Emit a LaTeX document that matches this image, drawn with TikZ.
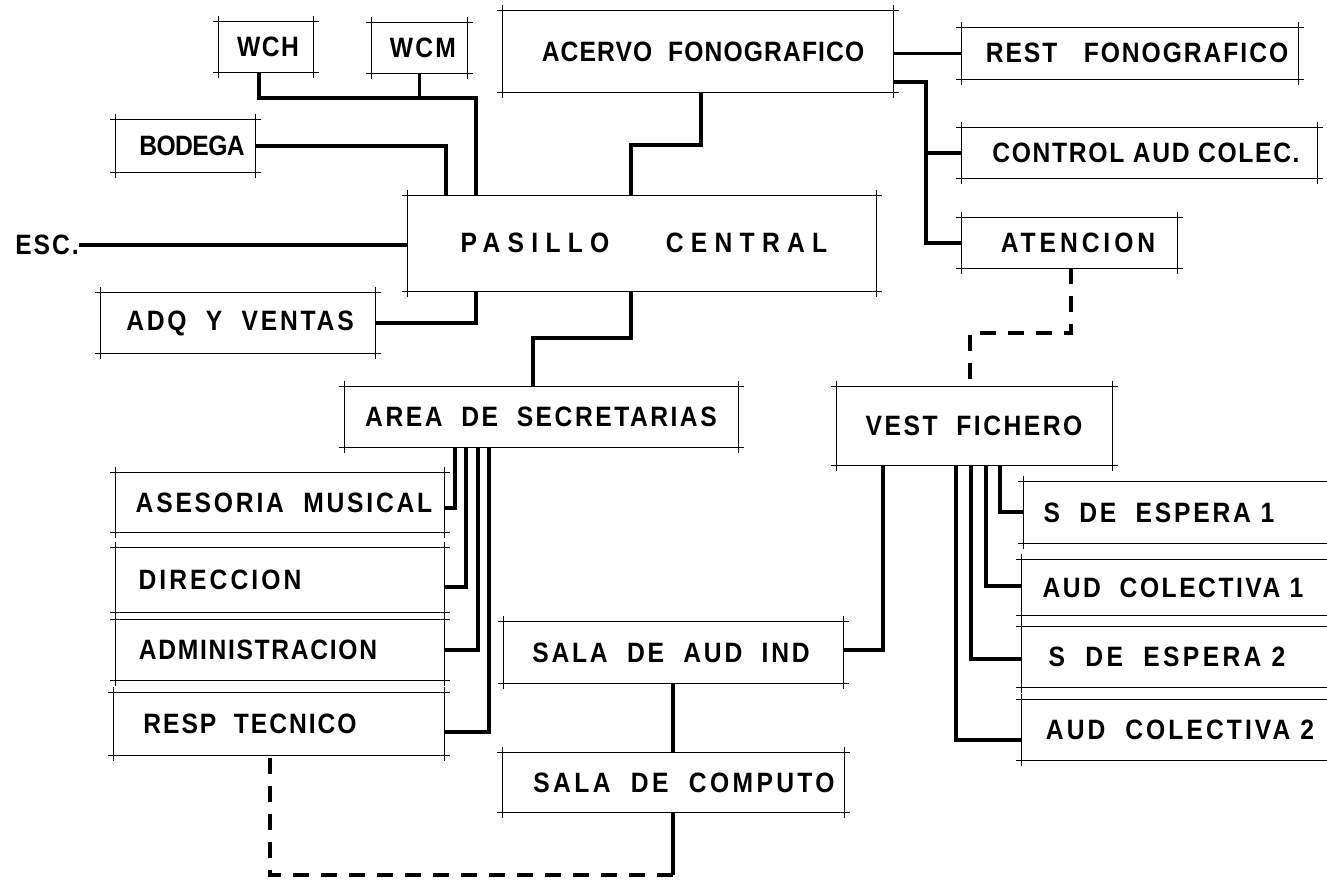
\documentclass[tikz,border=0pt]{standalone}
\usepackage{fontspec}
\setmainfont{Liberation Sans}[FakeStretch=0.88]
\usetikzlibrary{fit}
\newcommand{\lsp}[2]{{\addfontfeature{LetterSpace=#1}#2}}
\begin{document}
\begin{tikzpicture}[x=0.75pt,y=-0.75pt,
  boxline/.style={line width=0.9pt},
  room/.style={inner sep=0pt, draw=none, fit={#1}, append after command={
    ([xshift=-4pt]\tikzlastnode.north west) edge[boxline] ([xshift=4pt]\tikzlastnode.north east)
    ([xshift=-4pt]\tikzlastnode.south west) edge[boxline] ([xshift=4pt]\tikzlastnode.south east)
    ([yshift=4pt]\tikzlastnode.north west) edge[boxline] ([yshift=-4pt]\tikzlastnode.south west)
    ([yshift=4pt]\tikzlastnode.north east) edge[boxline] ([yshift=-4pt]\tikzlastnode.south east)}},
  lbl/.style={inner sep=0pt, font=\bfseries\fontsize{21}{24}\selectfont},
  conn/.style={line width=2.3pt},
  dconn/.style={line width=2.3pt, dash pattern=on 12pt off 9pt}
]
\fill[white] (0,0) rectangle (1327,879);
\useasboundingbox (0,0) rectangle (1327,879);

% boxes
\node[room={(219,22) (313,72)}] (wch) {};
\node[room={(372,23) (467,73)}] (wcm) {};
\node[room={(503,11) (893,92)}] (ace) {};
\node[room={(962,28) (1298,79)}] (rest) {};
\node[room={(962,128) (1317,178)}] (ctl) {};
\node[room={(962,218) (1177,268)}] (ate) {};
\node[room={(116,120) (255,172)}] (bod) {};
\node[room={(408,196) (876,291)}] (pas) {};
\node[room={(101,293) (375,353)}] (adq) {};
\node[room={(345,387) (738,447)}] (area) {};
\node[room={(837,387) (1112,465)}] (vest) {};
\node[room={(116,473) (444,532)}] (ase) {};
\node[room={(116,548) (444,612)}] (dir) {};
\node[room={(116,620) (444,680)}] (adm) {};
\node[room={(114,693) (444,755)}] (resp) {};
\node[room={(504,622) (843,683)}] (sai) {};
\node[room={(503,753) (844,812)}] (scp) {};
\node[room={(1024,482) (1345,543)}] (se1) {};
\node[room={(1022,560) (1345,615)}] (ac1) {};
\node[room={(1022,627) (1345,687)}] (se2) {};
\node[room={(1022,700) (1345,760)}] (ac2) {};

% labels
\node[lbl] (t-wch) at (268,47) {\lsp{5}{WCH}};
\node[lbl] (t-wcm) at (423,48) {\lsp{8}{WCM}};
\node[lbl] (t-ace) at (703,52) {\lsp{4}{ACERVO\ \ FONOGRAFICO}};
\node[lbl] (t-rest) at (1137,53) {\lsp{7}{REST\ \ \ FONOGRAFICO}};
\node[lbl] (t-ctl) at (1146,153) {\lsp{6}{CONTROL\ AUD\ COLEC.}};
\node[lbl] (t-ate) at (1078,243) {\lsp{14}{ATENCION}};
\node[lbl] (t-bod) at (192,146) {\lsp{-2}{BODEGA}};
\node[lbl] (t-pas) at (644,243) {\lsp{26}{PASILLO\ \ \ \ CENTRAL}};
\node[lbl] (esc) at (47,245) {\lsp{7}{ESC.}};
\node[lbl] (t-adq) at (240,323) {\lsp{10}{ADQ\ \ Y\ \ VENTAS}};
\node[lbl] (t-area) at (541,417) {\lsp{9}{AREA\ \ DE\ \ SECRETARIAS}};
\node[lbl] (t-vest) at (974,426) {\lsp{9}{VEST\ \ FICHERO}};
\node[lbl] (t-ase) at (284,503) {\lsp{10}{ASESORIA\ \ MUSICAL}};
\node[lbl] (t-dir) at (220,580) {\lsp{11}{DIRECCION}};
\node[lbl] (t-adm) at (258,650) {\lsp{6}{ADMINISTRACION}};
\node[lbl] (t-resp) at (250,724) {\lsp{7}{RESP\ \ TECNICO}};
\node[lbl] (t-sai) at (671,653) {\lsp{10}{SALA\ \ DE\ \ AUD\ \ IND}};
\node[lbl] (t-scp) at (684,783) {\lsp{12}{SALA\ \ DE\ \ COMPUTO}};
\node[lbl] (t-se1) at (1159,513) {\lsp{10}{S\ \ DE\ \ ESPERA\ 1}};
\node[lbl] (t-ac1) at (1173,588) {\lsp{9}{AUD\ \ COLECTIVA\ 1}};
\node[lbl] (t-se2) at (1167,657) {\lsp{12}{S\ \ DE\ \ ESPERA\ 2}};
\node[lbl] (t-ac2) at (1180,730) {\lsp{11}{AUD\ \ COLECTIVA\ 2}};

% connectors
\coordinate (j1) at (476,98);
\draw[conn] (259,0 |- wch.south) |- (j1) -- (476,0 |- pas.north);
\draw[conn] (wcm.south) -- (wcm.south |- j1);
\draw[conn] (bod.east) -| (446,0 |- pas.north);
\draw[conn] (701,0 |- ace.south) -- (701,145) -| (631,0 |- pas.north);
\draw[conn] (esc.east) -- (pas.west |- esc.east);
\draw[conn] (476,0 |- pas.south) |- (adq.east);
\draw[conn] (631,0 |- pas.south) -- (631,338) -| (533,0 |- area.north);
\draw[conn] (ace.east |- rest.west) -- (rest.west);
\draw[conn] (ace.east |- 0,82) -- (926,82) |- (ate.west);
\draw[conn] (926,0 |- ctl.west) -- (ctl.west);
\draw[dconn] (1071,0 |- ate.south) -- (1071,333) -| (970,0 |- vest.north);
% Area de secretarias branches
\draw[conn] (455,0 |- area.south) |- (ase.east |- 0,508);
\draw[conn] (466,0 |- area.south) |- (dir.east |- 0,587);
\draw[conn] (478,0 |- area.south) |- (adm.east |- 0,650);
\draw[conn] (489,0 |- area.south) |- (resp.east |- 0,732);
% salas
\draw[conn] (673,0 |- sai.south) -- (673,0 |- scp.north);
\coordinate (j2) at (673,875);
\draw[conn] (673,0 |- scp.south) -- (j2);
\draw[dconn] (j2) -| (270,0 |- resp.south);
% vestibulo fichero
\draw[conn] (883,0 |- vest.south) |- (sai.east |- 0,650);
\draw[conn] (1000,0 |- vest.south) |- (se1.west |- 0,512);
\draw[conn] (986,0 |- vest.south) |- (ac1.west |- 0,586);
\draw[conn] (971,0 |- vest.south) |- (se2.west |- 0,659);
\draw[conn] (956,0 |- vest.south) |- (ac2.west |- 0,740);
\end{tikzpicture}
\end{document}
